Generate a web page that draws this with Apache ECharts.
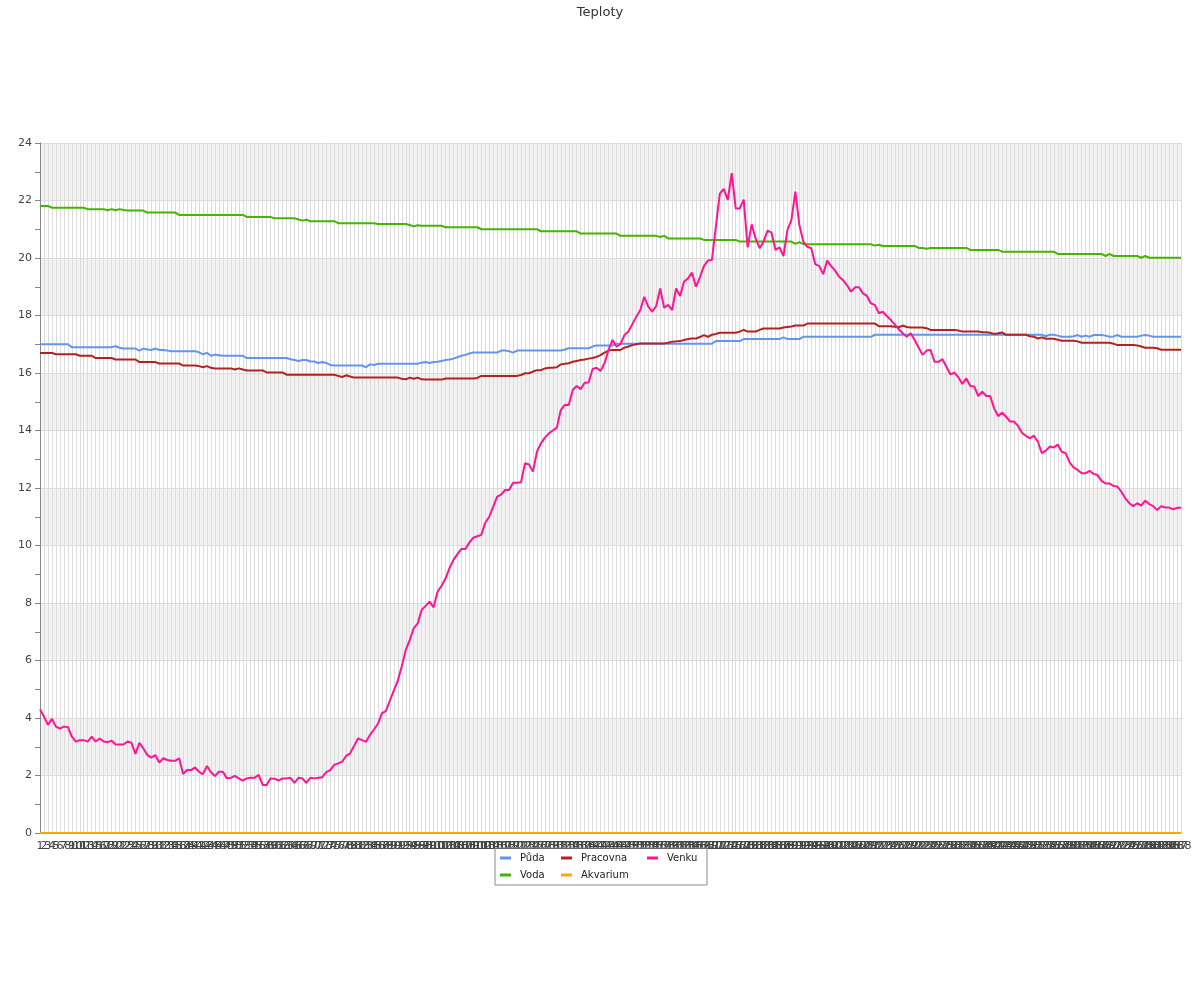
<!DOCTYPE html>
<html>
<head>
<meta charset="utf-8">
<script src="https://cdn.jsdelivr.net/npm/echarts@6/dist/echarts.min.js"></script>
<style>html,body{margin:0;padding:0;background:#fff}#c{width:1200px;height:1000px}</style>
</head>
<body>
<div id="c"></div>
<script>
const seriesNames = ['Půda', 'Voda', 'Pracovna', 'Akvarium', 'Venku'];
const categories = Array.from({length: 288}, (_, i) => String(i + 1));
const yTicks = [0, 2, 4, 6, 8, 10, 12, 14, 16, 18, 20, 22, 24];

const puda = [
17.0,17.0,17.0,17.0,17.0,17.0,17.0,17.0,16.9,16.9,
16.9,16.9,16.9,16.9,16.9,16.9,16.9,16.9,16.9,16.93,
16.88,16.85,16.85,16.85,16.85,16.78,16.85,16.82,16.8,16.85,
16.8,16.8,16.78,16.76,16.76,16.76,16.76,16.76,16.76,16.76,
16.72,16.65,16.7,16.6,16.64,16.62,16.6,16.6,16.6,16.6,
16.6,16.6,16.52,16.52,16.52,16.52,16.52,16.52,16.52,16.52,
16.52,16.52,16.52,16.48,16.45,16.42,16.45,16.45,16.4,16.4,
16.35,16.38,16.35,16.28,16.26,16.26,16.26,16.26,16.26,16.26,
16.26,16.26,16.2,16.3,16.28,16.32,16.32,16.32,16.32,16.32,
16.32,16.32,16.32,16.32,16.32,16.32,16.36,16.38,16.35,16.38,
16.39,16.42,16.45,16.47,16.5,16.55,16.6,16.63,16.68,16.71,
16.71,16.71,16.71,16.71,16.71,16.71,16.78,16.78,16.76,16.71,
16.78,16.78,16.78,16.78,16.78,16.78,16.78,16.78,16.78,16.78,
16.78,16.78,16.82,16.86,16.86,16.86,16.86,16.86,16.86,16.92,
16.96,16.96,16.96,16.96,16.96,17.02,17.02,17.02,17.02,17.02,
17.02,17.02,17.02,17.02,17.02,17.02,17.02,17.02,17.02,17.02,
17.02,17.02,17.02,17.02,17.02,17.02,17.02,17.02,17.02,17.02,
17.11,17.11,17.11,17.11,17.11,17.11,17.11,17.18,17.18,17.18,
17.18,17.18,17.18,17.18,17.18,17.18,17.18,17.24,17.18,17.18,
17.18,17.18,17.26,17.26,17.26,17.26,17.26,17.26,17.26,17.26,
17.26,17.26,17.26,17.26,17.26,17.26,17.26,17.26,17.26,17.26,
17.33,17.33,17.33,17.33,17.33,17.33,17.33,17.33,17.33,17.33,
17.33,17.33,17.33,17.33,17.33,17.33,17.33,17.33,17.33,17.33,
17.33,17.33,17.33,17.33,17.33,17.33,17.33,17.33,17.33,17.33,
17.33,17.33,17.33,17.33,17.33,17.33,17.33,17.33,17.33,17.33,
17.33,17.33,17.33,17.28,17.33,17.33,17.3,17.26,17.26,17.26,
17.28,17.32,17.26,17.3,17.26,17.32,17.32,17.32,17.3,17.26,
17.27,17.32,17.26,17.26,17.26,17.26,17.26,17.3,17.32,17.3,
17.26,17.26,17.26,17.26,17.26,17.26,17.26,17.26
];

const voda = [
21.81,21.81,21.81,21.75,21.75,21.75,21.75,21.75,21.75,21.75,
21.75,21.75,21.7,21.7,21.7,21.7,21.7,21.66,21.7,21.66,
21.7,21.67,21.65,21.65,21.65,21.65,21.65,21.58,21.58,21.58,
21.58,21.58,21.58,21.58,21.58,21.5,21.5,21.5,21.5,21.5,
21.5,21.5,21.5,21.5,21.5,21.5,21.5,21.5,21.5,21.5,
21.5,21.5,21.43,21.43,21.43,21.43,21.43,21.43,21.43,21.38,
21.38,21.38,21.38,21.38,21.38,21.34,21.3,21.33,21.28,21.28,
21.28,21.28,21.28,21.28,21.28,21.21,21.21,21.21,21.21,21.21,
21.21,21.21,21.21,21.21,21.21,21.18,21.18,21.18,21.18,21.18,
21.18,21.18,21.18,21.15,21.1,21.14,21.12,21.12,21.12,21.12,
21.12,21.12,21.07,21.07,21.07,21.07,21.07,21.07,21.07,21.07,
21.07,21.0,21.0,21.0,21.0,21.0,21.0,21.0,21.0,21.0,
21.0,21.0,21.0,21.0,21.0,21.0,20.93,20.93,20.93,20.93,
20.93,20.93,20.93,20.93,20.93,20.93,20.85,20.85,20.85,20.85,
20.85,20.85,20.85,20.85,20.85,20.85,20.77,20.77,20.77,20.77,
20.77,20.77,20.77,20.77,20.77,20.77,20.73,20.77,20.68,20.68,
20.68,20.68,20.68,20.68,20.68,20.68,20.68,20.63,20.63,20.63,
20.63,20.63,20.63,20.63,20.63,20.63,20.57,20.57,20.57,20.57,
20.57,20.57,20.57,20.57,20.57,20.57,20.57,20.57,20.57,20.57,
20.49,20.55,20.48,20.48,20.48,20.48,20.48,20.48,20.48,20.48,
20.48,20.48,20.48,20.48,20.48,20.48,20.48,20.48,20.48,20.48,
20.43,20.46,20.42,20.42,20.42,20.42,20.42,20.42,20.42,20.42,
20.42,20.35,20.35,20.32,20.35,20.35,20.35,20.35,20.35,20.35,
20.35,20.35,20.35,20.35,20.28,20.28,20.28,20.28,20.28,20.28,
20.28,20.28,20.22,20.22,20.22,20.22,20.22,20.22,20.22,20.22,
20.22,20.22,20.22,20.22,20.22,20.22,20.14,20.14,20.14,20.14,
20.14,20.14,20.14,20.14,20.14,20.14,20.14,20.14,20.07,20.14,
20.07,20.07,20.07,20.07,20.07,20.07,20.07,20.01,20.07,20.01,
20.01,20.01,20.01,20.01,20.01,20.01,20.01,20.01
];

const pracovna = [
16.7,16.7,16.7,16.7,16.65,16.65,16.65,16.65,16.65,16.65,
16.6,16.6,16.6,16.6,16.52,16.52,16.52,16.52,16.52,16.47,
16.47,16.47,16.47,16.47,16.47,16.38,16.38,16.38,16.38,16.38,
16.33,16.33,16.33,16.33,16.33,16.33,16.26,16.26,16.26,16.26,
16.24,16.2,16.24,16.18,16.16,16.16,16.16,16.16,16.16,16.12,
16.16,16.12,16.09,16.09,16.09,16.09,16.09,16.02,16.02,16.02,
16.02,16.02,15.94,15.94,15.94,15.94,15.94,15.94,15.94,15.94,
15.94,15.94,15.94,15.94,15.94,15.9,15.86,15.92,15.88,15.84,
15.84,15.84,15.84,15.84,15.84,15.84,15.84,15.84,15.84,15.84,
15.84,15.8,15.78,15.84,15.8,15.84,15.78,15.77,15.77,15.77,
15.77,15.77,15.81,15.81,15.81,15.81,15.81,15.81,15.81,15.81,
15.83,15.9,15.9,15.9,15.9,15.9,15.9,15.9,15.9,15.9,
15.9,15.93,15.99,15.99,16.05,16.1,16.1,16.16,16.18,16.18,
16.2,16.3,16.32,16.34,16.39,16.42,16.45,16.47,16.5,16.52,
16.56,16.62,16.71,16.78,16.8,16.8,16.8,16.88,16.92,16.97,
17.0,17.03,17.03,17.03,17.03,17.03,17.03,17.03,17.05,17.09,
17.1,17.11,17.15,17.18,17.2,17.2,17.25,17.32,17.26,17.33,
17.36,17.4,17.4,17.4,17.4,17.4,17.44,17.5,17.44,17.44,
17.44,17.5,17.55,17.55,17.55,17.55,17.55,17.58,17.6,17.62,
17.65,17.65,17.65,17.72,17.72,17.72,17.72,17.72,17.72,17.72,
17.72,17.72,17.72,17.72,17.72,17.72,17.72,17.72,17.72,17.72,
17.72,17.63,17.63,17.63,17.63,17.61,17.59,17.65,17.6,17.58,
17.58,17.58,17.58,17.56,17.5,17.5,17.5,17.5,17.5,17.5,
17.5,17.48,17.44,17.44,17.44,17.44,17.44,17.42,17.42,17.4,
17.36,17.38,17.41,17.33,17.33,17.33,17.33,17.33,17.33,17.28,
17.26,17.2,17.24,17.19,17.19,17.19,17.16,17.12,17.12,17.12,
17.12,17.1,17.05,17.05,17.05,17.05,17.05,17.05,17.05,17.05,
17.02,16.97,16.97,16.97,16.97,16.97,16.96,16.92,16.88,16.88,
16.88,16.86,16.81,16.81,16.81,16.81,16.81,16.81
];

const akvarium = [
0,0,0,0,0,0,0,0,0,0, 0,0,0,0,0,0,0,0,0,0, 0,0,0,0,0,0,0,0,0,0,
0,0,0,0,0,0,0,0,0,0, 0,0,0,0,0,0,0,0,0,0, 0,0,0,0,0,0,0,0,0,0,
0,0,0,0,0,0,0,0,0,0, 0,0,0,0,0,0,0,0,0,0, 0,0,0,0,0,0,0,0,0,0,
0,0,0,0,0,0,0,0,0,0, 0,0,0,0,0,0,0,0,0,0, 0,0,0,0,0,0,0,0,0,0,
0,0,0,0,0,0,0,0,0,0, 0,0,0,0,0,0,0,0,0,0, 0,0,0,0,0,0,0,0,0,0,
0,0,0,0,0,0,0,0,0,0, 0,0,0,0,0,0,0,0,0,0, 0,0,0,0,0,0,0,0,0,0,
0,0,0,0,0,0,0,0,0,0, 0,0,0,0,0,0,0,0,0,0, 0,0,0,0,0,0,0,0,0,0,
0,0,0,0,0,0,0,0,0,0, 0,0,0,0,0,0,0,0,0,0, 0,0,0,0,0,0,0,0,0,0,
0,0,0,0,0,0,0,0,0,0, 0,0,0,0,0,0,0,0,0,0, 0,0,0,0,0,0,0,0,0,0,
0,0,0,0,0,0,0,0,0,0, 0,0,0,0,0,0,0,0
];

const venku = [
4.30,4.05,3.76,3.97,3.70,3.63,3.70,3.69,3.35,3.18,
3.23,3.23,3.18,3.35,3.18,3.29,3.18,3.16,3.21,3.08,
3.08,3.08,3.18,3.14,2.75,3.14,2.94,2.71,2.62,2.71,
2.45,2.60,2.54,2.51,2.51,2.60,2.05,2.19,2.19,2.28,
2.13,2.05,2.33,2.11,1.98,2.13,2.13,1.90,1.92,1.99,
1.90,1.82,1.90,1.92,1.92,2.02,1.67,1.67,1.90,1.89,
1.82,1.90,1.90,1.92,1.74,1.92,1.90,1.74,1.92,1.90,
1.92,1.94,2.12,2.19,2.37,2.42,2.48,2.68,2.77,3.03,
3.29,3.23,3.17,3.41,3.60,3.80,4.16,4.25,4.60,4.95,
5.30,5.80,6.37,6.71,7.12,7.29,7.76,7.90,8.05,7.85,
8.39,8.60,8.85,9.21,9.50,9.70,9.88,9.88,10.10,10.27,
10.32,10.37,10.79,11.00,11.35,11.70,11.77,11.93,11.93,12.18,
12.18,12.20,12.86,12.82,12.57,13.26,13.55,13.75,13.90,14.00,
14.10,14.71,14.89,14.89,15.41,15.55,15.44,15.66,15.67,16.14,
16.18,16.07,16.34,16.80,17.15,16.92,17.00,17.32,17.44,17.70,
17.96,18.19,18.65,18.31,18.13,18.33,18.94,18.27,18.37,18.19,
18.94,18.68,19.18,19.29,19.49,19.00,19.33,19.72,19.91,19.93,
21.09,22.24,22.40,22.02,22.95,21.72,21.72,22.03,20.37,21.17,
20.68,20.34,20.57,20.95,20.88,20.28,20.37,20.07,20.97,21.32,
22.31,21.15,20.57,20.39,20.34,19.79,19.72,19.44,19.91,19.72,
19.56,19.35,19.23,19.05,18.83,18.98,18.98,18.77,18.68,18.42,
18.37,18.08,18.13,17.98,17.84,17.69,17.52,17.38,17.26,17.38,
17.15,16.89,16.63,16.78,16.80,16.39,16.39,16.48,16.22,15.95,
16.01,15.85,15.62,15.81,15.55,15.53,15.20,15.35,15.20,15.20,
14.77,14.50,14.62,14.48,14.31,14.31,14.16,13.92,13.81,13.73,
13.82,13.61,13.21,13.30,13.44,13.41,13.51,13.26,13.21,12.88,
12.72,12.63,12.51,12.51,12.60,12.49,12.45,12.25,12.16,12.16,
12.07,12.05,11.87,11.64,11.47,11.37,11.47,11.39,11.56,11.44,
11.37,11.23,11.37,11.32,11.32,11.26,11.31,11.31
];

const colors = {
  'Půda': '#6495ed',
  'Voda': '#46b400',
  'Pracovna': '#b22222',
  'Akvarium': '#ffa500',
  'Venku': '#ff1493'
};
const dataByName = {
  'Půda': puda, 'Voda': voda, 'Pracovna': pracovna, 'Akvarium': akvarium, 'Venku': venku
};

const legendOrder = ['Půda', 'Pracovna', 'Venku', 'Voda', 'Akvarium'];
const legendTextWidth = {'Půda': 36, 'Voda': 36, 'Pracovna': 61, 'Akvarium': 61, 'Venku': 32};

const chart = echarts.init(document.getElementById('c'), null, {renderer: 'canvas'});
chart.setOption({
  animation: false,
  backgroundColor: '#ffffff',
  title: {
    text: 'Teploty',
    left: 'center',
    top: 1,
    textStyle: {fontFamily: 'DejaVu Sans', fontSize: 13, fontWeight: 'normal', color: '#333'}
  },
  legend: {
    orient: 'horizontal',
    left: 495,
    top: 848,
    width: 200,
    padding: [4, 8, 4, 5],
    itemGap: 5,
    itemWidth: 11,
    itemHeight: 3,
    icon: 'rect',
    borderColor: '#888',
    borderWidth: 1,
    data: legendOrder.map(n => ({
      name: n,
      textStyle: {width: legendTextWidth[n]}
    })),
    textStyle: {fontFamily: 'DejaVu Sans', fontSize: 10, color: '#222', lineHeight: 12, padding: [0, 0, 0, 4]}
  },
  grid: {left: 40, right: 19, top: 143, bottom: 167, containLabel: false},
  xAxis: {
    type: 'category',
    boundaryGap: false,
    data: categories,
    axisLine: {show: true, lineStyle: {color: '#888'}},
    axisTick: {show: false},
    axisLabel: {interval: 0, fontFamily: 'DejaVu Sans', fontSize: 11, color: '#444', margin: 8, hideOverlap: false},
    splitLine: {show: true, interval: 0, lineStyle: {color: '#dcdcdc', width: 1}}
  },
  yAxis: {
    type: 'value',
    min: yTicks[0],
    max: yTicks[yTicks.length - 1],
    interval: 2,
    axisLine: {show: true, lineStyle: {color: '#888'}},
    axisTick: {show: true, length: 5, lineStyle: {color: '#888'}},
    minorTick: {show: true, splitNumber: 2, length: 5, lineStyle: {color: '#888'}},
    axisLabel: {fontFamily: 'DejaVu Sans', fontSize: 11, color: '#444', margin: 8},
    splitLine: {show: true, lineStyle: {color: '#dcdcdc'}},
    splitArea: {show: true, areaStyle: {color: ['#ffffff', '#f2f2f2']}}
  },
  series: seriesNames.map(n => ({
    name: n,
    type: 'line',
    data: dataByName[n],
    showSymbol: false,
    symbol: 'none',
    lineStyle: {width: 2, color: colors[n]},
    itemStyle: {color: colors[n]}
  }))
});
</script>
</body>
</html>
